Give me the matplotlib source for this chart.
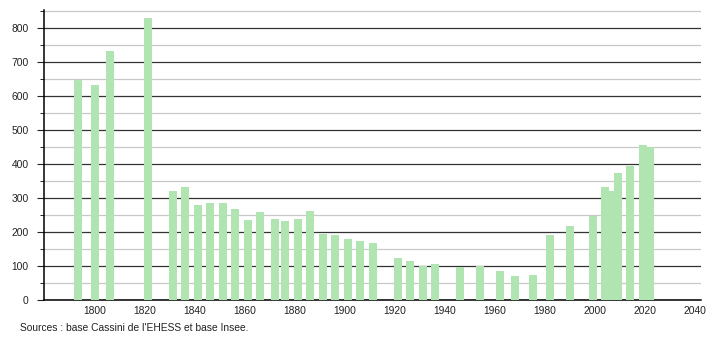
import matplotlib
matplotlib.use("Agg")
import matplotlib.pyplot as plt
from matplotlib.ticker import MultipleLocator

plt.rcParams['font.family'] = ['Liberation Sans', 'DejaVu Sans']

years = [1793, 1800, 1806, 1821, 1831, 1836, 1841, 1846, 1851, 1856,
         1861, 1866, 1872, 1876, 1881, 1886, 1891, 1896, 1901, 1906,
         1911, 1921, 1926, 1931, 1936, 1946, 1954, 1962, 1968, 1975,
         1982, 1990, 1999, 2004, 2006, 2009, 2014, 2019, 2022]
population = [648, 633, 733, 829, 321, 332, 280, 284, 285, 268,
              236, 260, 238, 233, 237, 262, 195, 192, 179, 175,
              169, 125, 116, 101, 106, 98, 100, 85, 71, 75,
              191, 218, 248, 332, 322, 374, 395, 455, 449]
x_ticks = list(range(1800, 2041, 20))
y_ticks = list(range(0, 801, 100))
source = "Sources : base Cassini de l'EHESS et base Insee."

fig = plt.figure(figsize=(7.1, 3.4), dpi=100)
ax = fig.add_axes([44 / 710, 40 / 340, 657 / 710, 290 / 340])

ax.bar(years, population, width=3.2, color='#b0e4b0', zorder=3)

ax.set_xlim(1779.6, 2042.4)
ax.set_ylim(0, 853)
ax.set_xticks(x_ticks)
ax.set_yticks(y_ticks)
ax.yaxis.set_minor_locator(MultipleLocator(50))
ax.grid(axis='y', which='major', color='#333333', linewidth=0.9, zorder=1)
ax.grid(axis='y', which='minor', color='#c8c8c8', linewidth=0.9, zorder=1)

for side in ['top', 'right']:
    ax.spines[side].set_visible(False)
ax.spines['left'].set_linewidth(1.1)
ax.spines['bottom'].set_linewidth(1.1)

ax.tick_params(axis='x', length=0, pad=4, labelsize=7.4, colors='#222222')
ax.tick_params(axis='y', which='major', length=5, pad=6, labelsize=7.4, colors='#222222')
ax.tick_params(axis='y', which='minor', length=3)

fig.text(20 / 710, 1 - 328 / 340, source, fontsize=7.4, color='#222222', va='center')

fig.savefig('out.png', dpi=100)
